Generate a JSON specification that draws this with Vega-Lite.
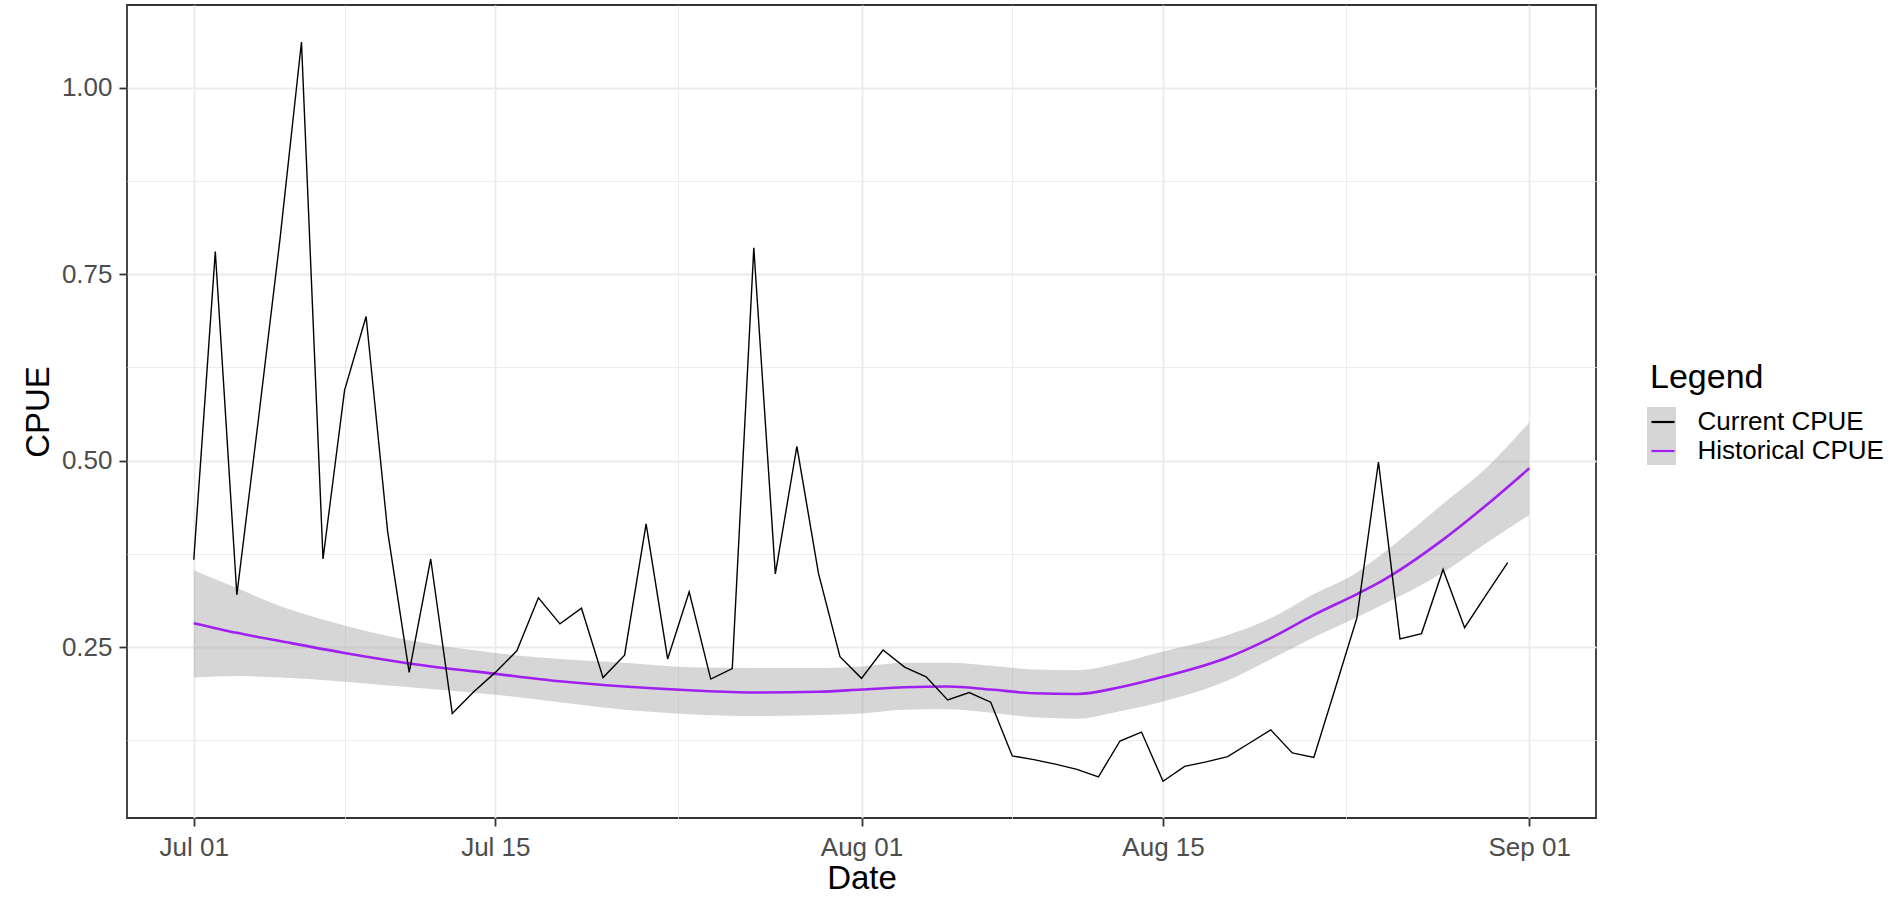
{
  "$schema": "https://vega.github.io/schema/vega-lite/v6.json",
  "width": 1469,
  "height": 813,
  "autosize": {"type": "none"},
  "padding": {"left": 127, "top": 5, "right": 299, "bottom": 81},
  "background": "white",
  "config": {
    "view": {"stroke": "#333333", "strokeWidth": 1.8},
    "font": "Liberation Sans"
  },
  "datasets": {
    "current": [
      {"date": "2023-07-01", "cpue": 0.367, "series": "Current CPUE"},
      {"date": "2023-07-02", "cpue": 0.780, "series": "Current CPUE"},
      {"date": "2023-07-03", "cpue": 0.320, "series": "Current CPUE"},
      {"date": "2023-07-04", "cpue": 0.555, "series": "Current CPUE"},
      {"date": "2023-07-05", "cpue": 0.796, "series": "Current CPUE"},
      {"date": "2023-07-06", "cpue": 1.061, "series": "Current CPUE"},
      {"date": "2023-07-07", "cpue": 0.368, "series": "Current CPUE"},
      {"date": "2023-07-08", "cpue": 0.594, "series": "Current CPUE"},
      {"date": "2023-07-09", "cpue": 0.693, "series": "Current CPUE"},
      {"date": "2023-07-10", "cpue": 0.405, "series": "Current CPUE"},
      {"date": "2023-07-11", "cpue": 0.216, "series": "Current CPUE"},
      {"date": "2023-07-12", "cpue": 0.368, "series": "Current CPUE"},
      {"date": "2023-07-13", "cpue": 0.161, "series": "Current CPUE"},
      {"date": "2023-07-14", "cpue": 0.190, "series": "Current CPUE"},
      {"date": "2023-07-15", "cpue": 0.216, "series": "Current CPUE"},
      {"date": "2023-07-16", "cpue": 0.245, "series": "Current CPUE"},
      {"date": "2023-07-17", "cpue": 0.316, "series": "Current CPUE"},
      {"date": "2023-07-18", "cpue": 0.281, "series": "Current CPUE"},
      {"date": "2023-07-19", "cpue": 0.302, "series": "Current CPUE"},
      {"date": "2023-07-20", "cpue": 0.209, "series": "Current CPUE"},
      {"date": "2023-07-21", "cpue": 0.239, "series": "Current CPUE"},
      {"date": "2023-07-22", "cpue": 0.415, "series": "Current CPUE"},
      {"date": "2023-07-23", "cpue": 0.234, "series": "Current CPUE"},
      {"date": "2023-07-24", "cpue": 0.324, "series": "Current CPUE"},
      {"date": "2023-07-25", "cpue": 0.207, "series": "Current CPUE"},
      {"date": "2023-07-26", "cpue": 0.221, "series": "Current CPUE"},
      {"date": "2023-07-27", "cpue": 0.785, "series": "Current CPUE"},
      {"date": "2023-07-28", "cpue": 0.348, "series": "Current CPUE"},
      {"date": "2023-07-29", "cpue": 0.519, "series": "Current CPUE"},
      {"date": "2023-07-30", "cpue": 0.349, "series": "Current CPUE"},
      {"date": "2023-07-31", "cpue": 0.237, "series": "Current CPUE"},
      {"date": "2023-08-01", "cpue": 0.208, "series": "Current CPUE"},
      {"date": "2023-08-02", "cpue": 0.246, "series": "Current CPUE"},
      {"date": "2023-08-03", "cpue": 0.223, "series": "Current CPUE"},
      {"date": "2023-08-04", "cpue": 0.210, "series": "Current CPUE"},
      {"date": "2023-08-05", "cpue": 0.179, "series": "Current CPUE"},
      {"date": "2023-08-06", "cpue": 0.189, "series": "Current CPUE"},
      {"date": "2023-08-07", "cpue": 0.176, "series": "Current CPUE"},
      {"date": "2023-08-08", "cpue": 0.104, "series": "Current CPUE"},
      {"date": "2023-08-09", "cpue": 0.099, "series": "Current CPUE"},
      {"date": "2023-08-10", "cpue": 0.093, "series": "Current CPUE"},
      {"date": "2023-08-11", "cpue": 0.086, "series": "Current CPUE"},
      {"date": "2023-08-12", "cpue": 0.076, "series": "Current CPUE"},
      {"date": "2023-08-13", "cpue": 0.124, "series": "Current CPUE"},
      {"date": "2023-08-14", "cpue": 0.136, "series": "Current CPUE"},
      {"date": "2023-08-15", "cpue": 0.070, "series": "Current CPUE"},
      {"date": "2023-08-16", "cpue": 0.090, "series": "Current CPUE"},
      {"date": "2023-08-17", "cpue": 0.096, "series": "Current CPUE"},
      {"date": "2023-08-18", "cpue": 0.103, "series": "Current CPUE"},
      {"date": "2023-08-19", "cpue": 0.121, "series": "Current CPUE"},
      {"date": "2023-08-20", "cpue": 0.139, "series": "Current CPUE"},
      {"date": "2023-08-21", "cpue": 0.108, "series": "Current CPUE"},
      {"date": "2023-08-22", "cpue": 0.102, "series": "Current CPUE"},
      {"date": "2023-08-23", "cpue": 0.195, "series": "Current CPUE"},
      {"date": "2023-08-24", "cpue": 0.289, "series": "Current CPUE"},
      {"date": "2023-08-25", "cpue": 0.498, "series": "Current CPUE"},
      {"date": "2023-08-26", "cpue": 0.261, "series": "Current CPUE"},
      {"date": "2023-08-27", "cpue": 0.268, "series": "Current CPUE"},
      {"date": "2023-08-28", "cpue": 0.354, "series": "Current CPUE"},
      {"date": "2023-08-29", "cpue": 0.276, "series": "Current CPUE"},
      {"date": "2023-08-30", "cpue": 0.320, "series": "Current CPUE"},
      {"date": "2023-08-31", "cpue": 0.363, "series": "Current CPUE"}
    ],
    "historical": [
      {"date": "2023-07-01", "cpue": 0.282, "lower": 0.209, "upper": 0.353, "series": "Historical CPUE"},
      {"date": "2023-07-03", "cpue": 0.269, "lower": 0.211, "upper": 0.329, "series": "Historical CPUE"},
      {"date": "2023-07-05", "cpue": 0.258, "lower": 0.209, "upper": 0.305, "series": "Historical CPUE"},
      {"date": "2023-07-08", "cpue": 0.242, "lower": 0.2035, "upper": 0.279, "series": "Historical CPUE"},
      {"date": "2023-07-11", "cpue": 0.228, "lower": 0.196, "upper": 0.259, "series": "Historical CPUE"},
      {"date": "2023-07-15", "cpue": 0.214, "lower": 0.186, "upper": 0.242, "series": "Historical CPUE"},
      {"date": "2023-07-18", "cpue": 0.204, "lower": 0.176, "upper": 0.234, "series": "Historical CPUE"},
      {"date": "2023-07-21", "cpue": 0.197, "lower": 0.166, "upper": 0.229, "series": "Historical CPUE"},
      {"date": "2023-07-24", "cpue": 0.192, "lower": 0.160, "upper": 0.223, "series": "Historical CPUE"},
      {"date": "2023-07-27", "cpue": 0.189, "lower": 0.1575, "upper": 0.222, "series": "Historical CPUE"},
      {"date": "2023-07-30", "cpue": 0.190, "lower": 0.159, "upper": 0.222, "series": "Historical CPUE"},
      {"date": "2023-08-01", "cpue": 0.193, "lower": 0.161, "upper": 0.224, "series": "Historical CPUE"},
      {"date": "2023-08-03", "cpue": 0.196, "lower": 0.166, "upper": 0.229, "series": "Historical CPUE"},
      {"date": "2023-08-05", "cpue": 0.197, "lower": 0.1665, "upper": 0.229, "series": "Historical CPUE"},
      {"date": "2023-08-07", "cpue": 0.193, "lower": 0.162, "upper": 0.225, "series": "Historical CPUE"},
      {"date": "2023-08-09", "cpue": 0.188, "lower": 0.156, "upper": 0.220, "series": "Historical CPUE"},
      {"date": "2023-08-11", "cpue": 0.187, "lower": 0.154, "upper": 0.219, "series": "Historical CPUE"},
      {"date": "2023-08-13", "cpue": 0.196, "lower": 0.164, "upper": 0.229, "series": "Historical CPUE"},
      {"date": "2023-08-15", "cpue": 0.210, "lower": 0.177, "upper": 0.244, "series": "Historical CPUE"},
      {"date": "2023-08-18", "cpue": 0.236, "lower": 0.205, "upper": 0.266, "series": "Historical CPUE"},
      {"date": "2023-08-20", "cpue": 0.262, "lower": 0.2335, "upper": 0.2885, "series": "Historical CPUE"},
      {"date": "2023-08-22", "cpue": 0.293, "lower": 0.263, "upper": 0.321, "series": "Historical CPUE"},
      {"date": "2023-08-24", "cpue": 0.321, "lower": 0.290, "upper": 0.350, "series": "Historical CPUE"},
      {"date": "2023-08-25", "cpue": 0.336, "lower": 0.304, "upper": 0.371, "series": "Historical CPUE"},
      {"date": "2023-08-28", "cpue": 0.394, "lower": 0.350, "upper": 0.442, "series": "Historical CPUE"},
      {"date": "2023-08-30", "cpue": 0.440, "lower": 0.389, "upper": 0.490, "series": "Historical CPUE"},
      {"date": "2023-09-01", "cpue": 0.4895, "lower": 0.427, "upper": 0.551, "series": "Historical CPUE"}
    ]
  },
  "encoding": {
    "x": {
      "field": "date",
      "type": "temporal",
      "title": "Date",
      "scale": {
        "type": "utc",
        "domain": [
          {"year": 2023, "month": "jun", "date": 27, "hours": 21, "minutes": 36, "utc": true},
          {"year": 2023, "month": "sep", "date": 4, "hours": 2, "minutes": 24, "utc": true}
        ]
      },
      "axis": {
        "values": [
          {"year": 2023, "month": "jul", "date": 1, "utc": true},
          {"year": 2023, "month": "jul", "date": 8, "utc": true},
          {"year": 2023, "month": "jul", "date": 15, "utc": true},
          {"year": 2023, "month": "jul", "date": 23, "hours": 12, "utc": true},
          {"year": 2023, "month": "aug", "date": 1, "utc": true},
          {"year": 2023, "month": "aug", "date": 8, "utc": true},
          {"year": 2023, "month": "aug", "date": 15, "utc": true},
          {"year": 2023, "month": "aug", "date": 23, "hours": 12, "utc": true},
          {"year": 2023, "month": "sep", "date": 1, "utc": true}
        ],
        "labelExpr": "(utcdate(datum.value) == 1 || utcdate(datum.value) == 15) ? utcFormat(datum.value, '%b %d') : ''",
        "labelOverlap": false,
        "labelFont": "Liberation Sans",
        "labelFontSize": 26,
        "labelColor": "#4D4D4D",
        "labelPadding": 8,
        "domain": false,
        "tickColor": "#333333",
        "tickWidth": 1.8,
        "tickSize": 8,
        "tickOpacity": {"condition": {"test": "utcdate(datum.value) == 1 || utcdate(datum.value) == 15", "value": 1}, "value": 0},
        "gridColor": "#EBEBEB",
        "gridWidth": {"condition": {"test": "utcdate(datum.value) == 1 || utcdate(datum.value) == 15", "value": 1.8}, "value": 0.9},
        "titleFont": "Liberation Sans",
        "titleFontSize": 33,
        "titleFontWeight": "normal",
        "titleColor": "black",
        "titlePadding": 2
      }
    }
  },
  "layer": [
    {
      "data": {"name": "historical"},
      "mark": {"type": "area", "interpolate": "monotone", "fillOpacity": 0.4},
      "encoding": {
        "y": {
          "field": "lower",
          "type": "quantitative",
          "title": "CPUE",
          "scale": {"domain": [0.0208, 1.1106], "nice": false, "zero": false},
          "axis": {
            "values": [0.125, 0.25, 0.375, 0.5, 0.625, 0.75, 0.875, 1.0],
            "labelExpr": "abs(datum.value * 4 - round(datum.value * 4)) < 0.001 ? format(datum.value, '.2f') : ''",
            "labelOverlap": false,
            "labelFont": "Liberation Sans",
            "labelFontSize": 26,
            "labelColor": "#4D4D4D",
            "labelPadding": 7,
            "domain": false,
            "tickColor": "#333333",
            "tickWidth": 1.8,
            "tickSize": 8,
            "tickOpacity": {"condition": {"test": "abs(datum.value * 4 - round(datum.value * 4)) < 0.001", "value": 1}, "value": 0},
            "gridColor": "#EBEBEB",
            "gridWidth": {"condition": {"test": "abs(datum.value * 4 - round(datum.value * 4)) < 0.001", "value": 1.8}, "value": 0.9},
            "titleFont": "Liberation Sans",
            "titleFontSize": 33,
            "titleFontWeight": "normal",
            "titleColor": "black",
            "titlePadding": 6
          }
        },
        "y2": {"field": "upper"},
        "fill": {
          "field": "series",
          "type": "nominal",
          "scale": {"domain": ["Historical CPUE", "Current CPUE"], "range": ["#999999", "#999999"]},
          "legend": {
            "orient": "none",
            "legendX": 1520,
            "legendY": 402,
            "padding": 0,
            "title": null,
            "labelExpr": "''",
            "labelFontSize": 1,
            "labelOffset": 0,
            "symbolType": "square",
            "symbolSize": 841,
            "symbolStrokeWidth": 0,
            "symbolOpacity": 0.4,
            "rowPadding": 0,
            "zindex": 0
          }
        }
      }
    },
    {
      "data": {"name": "historical"},
      "mark": {"type": "line", "interpolate": "monotone", "strokeWidth": 2.6},
      "encoding": {
        "y": {"field": "cpue", "type": "quantitative", "title": "CPUE"},
        "color": {
          "field": "series",
          "type": "nominal",
          "scale": {"domain": ["Current CPUE", "Historical CPUE"], "range": ["#000000", "#A020F0"]},
          "legend": {
            "orient": "none",
            "legendX": 1523,
            "legendY": 356,
            "padding": 0,
            "title": "Legend",
            "titleFont": "Liberation Sans",
            "titleFontSize": 34,
            "titleFontWeight": "normal",
            "titleColor": "black",
            "titlePadding": 14,
            "labelFont": "Liberation Sans",
            "labelFontSize": 26,
            "labelColor": "black",
            "labelLimit": 0,
            "labelOffset": 21.5,
            "symbolType": "stroke",
            "symbolSize": 529,
            "symbolStrokeWidth": 2.2,
            "rowPadding": 3,
            "zindex": 1
          }
        }
      }
    },
    {
      "data": {"name": "current"},
      "mark": {"type": "line", "strokeWidth": 1.4},
      "encoding": {
        "y": {"field": "cpue", "type": "quantitative", "title": "CPUE"},
        "color": {"field": "series", "type": "nominal"}
      }
    }
  ]
}
